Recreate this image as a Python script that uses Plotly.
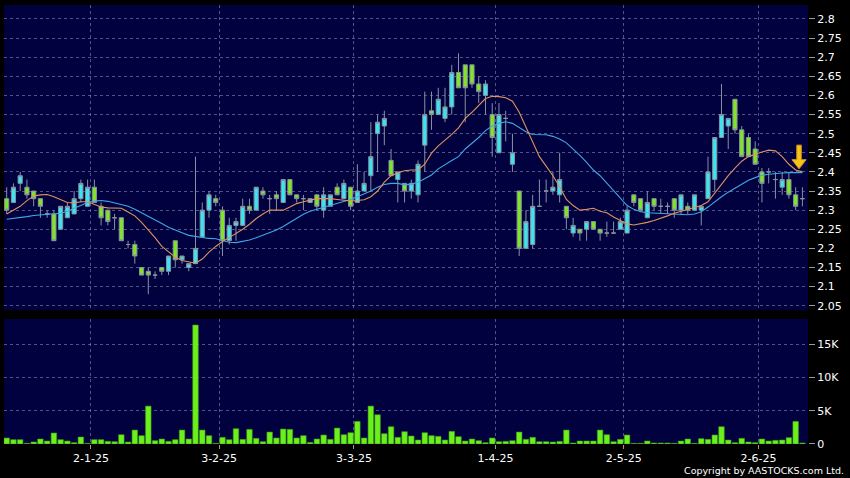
import plotly.graph_objects as go

# ---------------- data ----------------
dates = [
    "2024-12-11", "2024-12-12", "2024-12-13", "2024-12-16", "2024-12-17", "2024-12-18", "2024-12-19",
    "2024-12-20", "2024-12-23", "2024-12-24", "2024-12-27", "2024-12-30", "2024-12-31",
    "2025-01-02", "2025-01-03", "2025-01-06", "2025-01-07", "2025-01-08", "2025-01-09", "2025-01-10",
    "2025-01-13", "2025-01-14", "2025-01-15", "2025-01-16", "2025-01-17", "2025-01-20", "2025-01-21",
    "2025-01-22", "2025-01-23", "2025-01-24", "2025-01-27", "2025-01-28",
    "2025-02-03", "2025-02-04", "2025-02-05", "2025-02-06", "2025-02-07", "2025-02-10", "2025-02-11",
    "2025-02-12", "2025-02-13", "2025-02-14", "2025-02-17", "2025-02-18", "2025-02-19", "2025-02-20",
    "2025-02-21", "2025-02-24", "2025-02-25", "2025-02-26", "2025-02-27", "2025-02-28",
    "2025-03-03", "2025-03-04", "2025-03-05", "2025-03-06", "2025-03-07", "2025-03-10", "2025-03-11",
    "2025-03-12", "2025-03-13", "2025-03-14", "2025-03-17", "2025-03-18", "2025-03-19", "2025-03-20",
    "2025-03-21", "2025-03-24", "2025-03-25", "2025-03-26", "2025-03-27", "2025-03-28", "2025-03-31",
    "2025-04-01", "2025-04-02", "2025-04-03", "2025-04-07", "2025-04-08", "2025-04-09", "2025-04-10",
    "2025-04-11", "2025-04-14", "2025-04-15", "2025-04-16", "2025-04-17", "2025-04-22", "2025-04-23",
    "2025-04-24", "2025-04-25", "2025-04-28", "2025-04-29", "2025-04-30",
    "2025-05-02", "2025-05-06", "2025-05-07", "2025-05-08", "2025-05-09", "2025-05-12", "2025-05-13",
    "2025-05-14", "2025-05-15", "2025-05-16", "2025-05-19", "2025-05-20", "2025-05-21", "2025-05-22",
    "2025-05-23", "2025-05-26", "2025-05-27", "2025-05-28", "2025-05-29", "2025-05-30",
    "2025-06-02", "2025-06-03", "2025-06-04", "2025-06-05", "2025-06-06", "2025-06-09", "2025-06-10",
]

opens = [
    2.33, 2.32, 2.37, 2.36, 2.35, 2.33, 2.29, 2.29, 2.25, 2.28, 2.29, 2.33, 2.31,
    2.36, 2.31, 2.30, 2.28, 2.28, 2.21, 2.21, 2.15, 2.14, 2.13, 2.15, 2.14, 2.22, 2.17,
    2.15, 2.16, 2.23, 2.30, 2.33,
    2.30, 2.22, 2.26, 2.26, 2.31, 2.30, 2.35, 2.33, 2.34, 2.32, 2.38, 2.34, 2.33, 2.32,
    2.34, 2.30, 2.31, 2.36, 2.33, 2.36,
    2.32, 2.35, 2.39, 2.50, 2.52, 2.43, 2.38, 2.37, 2.35, 2.34, 2.47, 2.56, 2.55, 2.54,
    2.57, 2.66, 2.68, 2.68, 2.63, 2.60, 2.55,
    2.45, 2.54, 2.42, 2.35, 2.20, 2.21, 2.31, 2.35, 2.35, 2.34, 2.31, 2.24, 2.25, 2.25,
    2.27, 2.25, 2.24, 2.24, 2.25,
    2.24, 2.34, 2.33, 2.28, 2.33, 2.31, 2.31, 2.33, 2.30, 2.31, 2.30, 2.30, 2.33, 2.38,
    2.49, 2.52, 2.59, 2.51, 2.49, 2.46,
    2.40, 2.40, 2.38, 2.36, 2.38, 2.34, 2.33,
]
highs = [
    2.36, 2.37, 2.40, 2.38, 2.35, 2.33, 2.30, 2.30, 2.31, 2.32, 2.35, 2.38, 2.38,
    2.38, 2.32, 2.30, 2.29, 2.28, 2.22, 2.22, 2.15, 2.15, 2.14, 2.15, 2.18, 2.22, 2.18,
    2.16, 2.44, 2.32, 2.35, 2.34,
    2.31, 2.28, 2.28, 2.33, 2.33, 2.36, 2.36, 2.34, 2.35, 2.38, 2.38, 2.34, 2.34, 2.33,
    2.34, 2.36, 2.34, 2.37, 2.38, 2.36,
    2.42, 2.40, 2.53, 2.55, 2.56, 2.46, 2.40, 2.37, 2.38, 2.43, 2.61, 2.61, 2.62, 2.62,
    2.68, 2.71, 2.68, 2.68, 2.65, 2.64, 2.58,
    2.58, 2.56, 2.50, 2.35, 2.30, 2.34, 2.38, 2.38, 2.40, 2.45, 2.31, 2.28, 2.25, 2.27,
    2.27, 2.25, 2.27, 2.27, 2.28,
    2.31, 2.34, 2.33, 2.35, 2.33, 2.33, 2.32, 2.33, 2.34, 2.32, 2.34, 2.31, 2.44, 2.49,
    2.63, 2.54, 2.59, 2.52, 2.50, 2.48,
    2.41, 2.41, 2.40, 2.40, 2.40, 2.36, 2.36,
]
lows = [
    2.29, 2.32, 2.35, 2.33, 2.31, 2.28, 2.28, 2.22, 2.25, 2.28, 2.29, 2.32, 2.31,
    2.32, 2.26, 2.26, 2.25, 2.22, 2.20, 2.16, 2.13, 2.08, 2.12, 2.13, 2.13, 2.15, 2.16,
    2.14, 2.16, 2.23, 2.28, 2.31,
    2.18, 2.21, 2.22, 2.26, 2.29, 2.30, 2.33, 2.29, 2.30, 2.32, 2.34, 2.32, 2.30, 2.32,
    2.30, 2.28, 2.31, 2.34, 2.33, 2.30,
    2.32, 2.35, 2.35, 2.40, 2.47, 2.39, 2.32, 2.32, 2.33, 2.32, 2.40, 2.51, 2.55, 2.53,
    2.55, 2.62, 2.53, 2.62, 2.58, 2.55, 2.44,
    2.45, 2.48, 2.40, 2.18, 2.20, 2.20, 2.31, 2.32, 2.34, 2.32, 2.25, 2.23, 2.22, 2.22,
    2.25, 2.22, 2.23, 2.24, 2.25,
    2.24, 2.31, 2.30, 2.28, 2.30, 2.29, 2.29, 2.28, 2.29, 2.29, 2.30, 2.26, 2.33, 2.35,
    2.49, 2.46, 2.50, 2.44, 2.44, 2.42,
    2.32, 2.37, 2.33, 2.34, 2.33, 2.30, 2.31,
]
closes = [
    2.30, 2.36, 2.39, 2.34, 2.33, 2.31, 2.29, 2.22, 2.31, 2.31, 2.33, 2.37, 2.36,
    2.32, 2.28, 2.27, 2.28, 2.22, 2.21, 2.18, 2.13, 2.13, 2.13, 2.14, 2.18, 2.17, 2.18,
    2.16, 2.20, 2.30, 2.34, 2.32,
    2.22, 2.26, 2.27, 2.31, 2.30, 2.36, 2.34, 2.33, 2.33, 2.38, 2.34, 2.33, 2.33, 2.33,
    2.31, 2.34, 2.34, 2.34, 2.37, 2.31,
    2.35, 2.37, 2.44, 2.53, 2.54, 2.39, 2.40, 2.35, 2.37, 2.42, 2.55, 2.55, 2.59, 2.57,
    2.66, 2.62, 2.62, 2.63, 2.61, 2.63, 2.49,
    2.55, 2.54, 2.45, 2.20, 2.27, 2.31, 2.31, 2.35, 2.36, 2.38, 2.28, 2.26, 2.24, 2.27,
    2.25, 2.24, 2.24, 2.24, 2.27,
    2.30, 2.32, 2.30, 2.32, 2.31, 2.31, 2.31, 2.30, 2.34, 2.30, 2.34, 2.31, 2.40, 2.49,
    2.55, 2.54, 2.51, 2.44, 2.44, 2.42,
    2.37, 2.40, 2.38, 2.38, 2.34, 2.31, 2.33,
]
volumes = [
    900, 650, 650, 100, 300, 750, 450, 1650, 650, 450, 200, 1050, 100,
    650, 650, 400, 350, 1400, 300, 2100, 1250, 5700, 500, 750, 400, 650, 2100,
    750, 17900, 2100, 1250, 100,
    1000, 650, 2300, 700, 2200, 850, 350, 1800, 900, 2250, 2200, 900, 1250, 250,
    750, 1350, 700, 2400, 1400, 1700,
    3400, 900, 5700, 4400, 1550, 2600, 1000, 1850, 1200, 600, 1700, 1250, 1150, 600,
    1900, 1100, 450, 750, 500, 200, 900,
    350, 400, 500, 1800, 700, 1000, 350, 350, 300, 400, 2100, 150, 450, 450,
    450, 2100, 1400, 350, 700,
    1350, 100, 100, 450, 150, 150, 150, 100, 450, 750, 100, 800, 700, 1350,
    2600, 600, 200, 850, 300, 200,
    750, 450, 550, 600, 950, 3400, 150,
]
ma_short = [
    2.290, 2.300, 2.310, 2.325, 2.337, 2.340, 2.341, 2.335, 2.327, 2.320, 2.319, 2.322, 2.322,
    2.315, 2.308, 2.306, 2.306, 2.305, 2.295, 2.285, 2.268, 2.248, 2.228, 2.205, 2.190, 2.177, 2.168,
    2.164, 2.161, 2.172, 2.190, 2.205,
    2.218, 2.228, 2.238, 2.250, 2.263, 2.278, 2.290, 2.300, 2.300, 2.300, 2.308, 2.317, 2.322, 2.327,
    2.330, 2.330, 2.330, 2.328, 2.325, 2.324,
    2.325, 2.327, 2.335, 2.350, 2.373, 2.390, 2.398, 2.403, 2.405, 2.405, 2.420, 2.449, 2.468, 2.482,
    2.498, 2.515, 2.540, 2.556, 2.573, 2.592, 2.598,
    2.597, 2.594, 2.585, 2.556, 2.516, 2.480, 2.440, 2.415, 2.390, 2.361, 2.328, 2.312, 2.300, 2.302,
    2.305, 2.297, 2.293, 2.282, 2.272,
    2.264, 2.261, 2.264, 2.268, 2.273, 2.278, 2.285, 2.292, 2.297, 2.300, 2.306, 2.312, 2.322, 2.345,
    2.370, 2.390, 2.410, 2.428, 2.440, 2.447,
    2.452, 2.457, 2.455, 2.440, 2.420, 2.405, 2.400,
]
ma_long = [
    2.276, 2.278, 2.280, 2.283, 2.286, 2.288, 2.289, 2.290, 2.292, 2.297, 2.304, 2.312, 2.320,
    2.324, 2.325, 2.323, 2.319, 2.315, 2.310, 2.302, 2.293, 2.285, 2.275, 2.265, 2.255, 2.247, 2.241,
    2.234, 2.231, 2.228, 2.226, 2.225,
    2.221, 2.216, 2.215, 2.218, 2.222, 2.228, 2.234, 2.240, 2.248, 2.257, 2.268, 2.279, 2.289, 2.297,
    2.302, 2.307, 2.312, 2.317, 2.322, 2.328,
    2.335, 2.342, 2.350, 2.360, 2.367, 2.370, 2.370, 2.366, 2.368, 2.373, 2.382, 2.392, 2.408, 2.420,
    2.430, 2.440, 2.460, 2.475, 2.490, 2.508, 2.520,
    2.527, 2.531, 2.527, 2.515, 2.505, 2.498, 2.498, 2.497, 2.493, 2.486, 2.476, 2.460, 2.443, 2.425,
    2.405, 2.390, 2.370, 2.350, 2.330,
    2.312, 2.302, 2.296, 2.293, 2.292, 2.291, 2.290, 2.289, 2.288, 2.288, 2.290, 2.296, 2.308, 2.322,
    2.335, 2.347, 2.357, 2.367, 2.378, 2.385,
    2.391, 2.394, 2.396, 2.397, 2.398, 2.398, 2.398,
]

month_starts = ["2025-01-02", "2025-02-03", "2025-03-03", "2025-04-01", "2025-05-02", "2025-06-02"]
month_labels = ["2-1-25", "3-2-25", "3-3-25", "1-4-25", "2-5-25", "2-6-25"]
price_ticks = [2.05, 2.1, 2.15, 2.2, 2.25, 2.3, 2.35, 2.4, 2.45, 2.5, 2.55, 2.6, 2.65, 2.7, 2.75, 2.8]
price_labels = ["2.05", "2.1", "2.15", "2.2", "2.25", "2.3", "2.35", "2.4", "2.45", "2.5",
                "2.55", "2.6", "2.65", "2.7", "2.75", "2.8"]
vol_ticks = [0, 5000, 10000, 15000]
vol_labels = ["0", "5K", "10K", "15K"]

# ---------------- figure ----------------
idx = list(range(len(dates)))
grid_x = [dates.index(d) - 0.5 for d in month_starts]

NAVY = "#010140"
GRID = "rgba(150,150,190,0.55)"
FONT = "DejaVu Sans"

fig = go.Figure()

fig.add_trace(go.Candlestick(
    x=idx, open=opens, high=highs, low=lows, close=closes,
    increasing=dict(fillcolor="#3BE4EF", line=dict(color="#8792A0", width=1)),
    decreasing=dict(fillcolor="#80E524", line=dict(color="#8792A0", width=1)),
    whiskerwidth=0, xaxis="x", yaxis="y", showlegend=False, hoverinfo="skip",
))
fig.add_trace(go.Scatter(
    x=idx, y=ma_long, mode="lines", line=dict(color="#3FA8E6", width=1.1),
    xaxis="x", yaxis="y", showlegend=False, hoverinfo="skip",
))
fig.add_trace(go.Scatter(
    x=idx, y=ma_short, mode="lines", line=dict(color="#E0925E", width=1.1),
    xaxis="x", yaxis="y", showlegend=False, hoverinfo="skip",
))
fig.add_trace(go.Bar(
    x=idx, y=volumes, marker=dict(color="#6CF01C", line=dict(color="#3E9A16", width=0.6)),
    xaxis="x2", yaxis="y2", showlegend=False, hoverinfo="skip",
))

# down arrow marker on the last moving-average value
last_i = idx[-1] - 0.5
tip = ma_short[-1] + 0.008
arrow_path = (
    f"M {last_i - 0.33},{tip + 0.062} L {last_i + 0.33},{tip + 0.062} "
    f"L {last_i + 0.33},{tip + 0.024} L {last_i + 1.05},{tip + 0.024} "
    f"L {last_i},{tip} L {last_i - 1.05},{tip + 0.024} "
    f"L {last_i - 0.33},{tip + 0.024} Z"
)
fig.add_shape(type="path", path=arrow_path, xref="x", yref="y",
              fillcolor="#F6C21C", line=dict(color="#D79A10", width=1))

xr = [-0.4, len(dates) - 0.17]
price_dom = [0.3052, 1.0]
vol_dom = [0.0, 0.2847]

fig.update_layout(
    width=850, height=478,
    paper_bgcolor="black", plot_bgcolor=NAVY,
    margin=dict(l=4, r=42, t=5, b=34),
    bargap=0.18, boxgap=0.12,
    font=dict(family=FONT, color="white", size=11),
    xaxis=dict(domain=[0, 1], anchor="y", range=xr, rangeslider=dict(visible=False),
               tickvals=grid_x, ticktext=[""] * len(grid_x), showticklabels=False,
               showgrid=True, gridcolor=GRID, griddash="3px,3px", gridwidth=1,
               zeroline=False, showline=False, ticks=""),
    xaxis2=dict(domain=[0, 1], anchor="y2", range=xr, matches="x",
                tickvals=grid_x, ticktext=month_labels,
                showgrid=True, gridcolor=GRID, griddash="3px,3px", gridwidth=1,
                zeroline=False, showline=False, ticks="outside", ticklen=4,
                tickcolor="#9a9a9a", tickfont=dict(size=11, color="white")),
    yaxis=dict(domain=price_dom, anchor="x", side="right", range=[2.0387, 2.8366],
               tickvals=price_ticks, ticktext=price_labels,
               showgrid=True, gridcolor=GRID, griddash="3px,3px", gridwidth=1,
               zeroline=False, showline=False, ticks="outside", ticklen=6,
               tickcolor="#9a9a9a", tickfont=dict(size=11, color="white")),
    yaxis2=dict(domain=vol_dom, anchor="x2", side="right", range=[0, 18800],
                tickvals=vol_ticks, ticktext=vol_labels,
                showgrid=True, gridcolor=GRID, griddash="3px,3px", gridwidth=1,
                zeroline=False, showline=False, ticks="outside", ticklen=6,
                tickcolor="#9a9a9a", tickfont=dict(size=11, color="white")),
)

fig.add_annotation(text="Copyright by AASTOCKS.com Ltd.", xref="paper", yref="paper",
                   x=1.047, y=-0.0615, xanchor="right", yanchor="middle", showarrow=False,
                   font=dict(family=FONT, size=9.5, color="white"))

fig.write_html("out.html", config={"displayModeBar": False},
               post_script="document.body.style.margin='0px';")
